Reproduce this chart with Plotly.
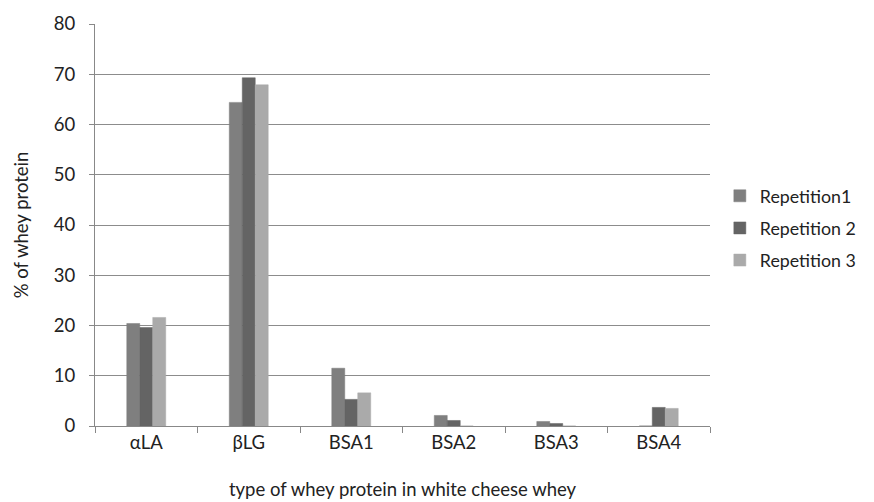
import plotly.graph_objects as go

categories = ["αLA", "βLG", "BSA1", "BSA2", "BSA3", "BSA4"]
rep1 = [20.4, 64.4, 11.5, 2.1, 0.9, 0.0]
rep2 = [19.6, 69.3, 5.3, 1.1, 0.5, 3.7]
rep3 = [21.6, 67.9, 6.6, 0.0, 0.0, 3.5]
series_names = ["Repetition1", "Repetition 2", "Repetition 3"]
colors = ["#7f7f7f", "#646464", "#aaaaaa"]

FONT = "Lato, Open Sans, sans-serif"
FS = 18.5

fig = go.Figure()
for i, (name, vals, col) in enumerate(zip(series_names, [rep1, rep2, rep3], colors)):
    fig.add_trace(go.Bar(
        x=categories, y=vals, name=name,
        marker=dict(color=col, line=dict(color=col, width=0.5)),
        legendgroup=f"g{i}",
    ))

fig.update_layout(
    width=866, height=494,
    margin=dict(l=87, r=164, t=16, b=76, autoexpand=False),
    plot_bgcolor="white", paper_bgcolor="white",
    barmode="group", bargap=0.62, bargroupgap=0.0,
    font=dict(family=FONT, size=FS, color="#222222"),
    showlegend=True,
    legend=dict(x=1.016, y=0.492, xanchor="left", yanchor="middle",
                font=dict(size=17.8, color="#222222"),
                traceorder="grouped", tracegroupgap=6,
                itemwidth=30),
)

fig.update_xaxes(
    automargin=False,
    showline=True, linecolor="#888888", linewidth=1,
    ticks="outside", tickson="boundaries", ticklen=6, tickcolor="#888888",
    tickfont=dict(size=FS),
    title=dict(text="type of whey protein in white cheese whey", font=dict(size=FS), standoff=30),
    showgrid=False,
)
fig.update_yaxes(
    automargin=False,
    range=[0, 80], dtick=10,
    showline=True, linecolor="#888888", linewidth=1,
    ticks="outside", ticklen=5, tickcolor="#888888",
    ticklabelstandoff=10,
    showgrid=True, gridcolor="#8c8c8c", gridwidth=1,
    tickfont=dict(size=FS),
    title=dict(text="% of whey protein", font=dict(size=FS), standoff=20),
    zeroline=False,
)

fig.write_html("out.html")
